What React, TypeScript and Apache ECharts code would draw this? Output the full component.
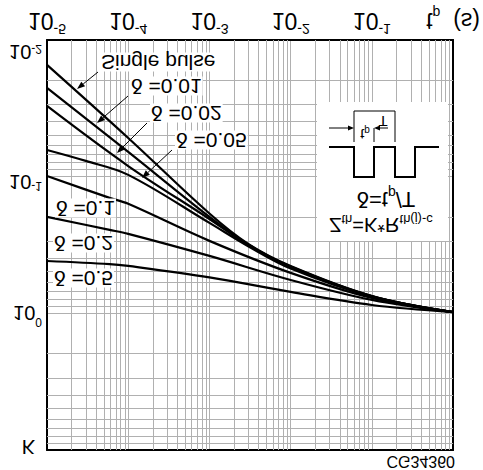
import React, { useEffect, useRef } from "react";
import * as echarts from "echarts";

const FONT = "'Liberation Sans', Arial, Helvetica, sans-serif";

// ---- axis data ----
const xDecades = [1e-5, 1e-4, 1e-3, 1e-2, 1e-1];
const yDecades = [1e-2, 1e-1, 1];
const minorSteps = [2, 3, 4, 5, 6, 7, 8, 9];

// ---- curves: [t_p (s), K] ----
const singlePulse = [[1e-5, 0.0152], [1e-4, 0.0521], [1e-3, 0.186], [3e-3, 0.31], [1e-2, 0.45], [1e-1, 0.746], [1, 0.98]];
const duty001 = [[1e-5, 0.0224], [1e-4, 0.0659], [1e-3, 0.197], [3e-3, 0.313], [1e-2, 0.455], [1e-1, 0.748], [1, 0.98]];
const duty002 = [[1e-5, 0.0304], [1e-4, 0.0836], [1e-3, 0.204], [3e-3, 0.317], [1e-2, 0.46], [1e-1, 0.75], [1, 0.98]];
const duty005 = [[1e-5, 0.0638], [3e-5, 0.0767], [1e-4, 0.097], [1e-3, 0.218], [3e-3, 0.323], [1e-2, 0.47], [1e-1, 0.755], [1, 0.98]];
const duty01 = [[1e-5, 0.0989], [5.9e-5, 0.143], [1e-4, 0.158], [1e-3, 0.295], [1e-2, 0.506], [1e-1, 0.771], [1, 0.98]];
const duty02 = [[1e-5, 0.197], [5.9e-5, 0.245], [1e-4, 0.262], [1e-3, 0.38], [1e-2, 0.57], [1e-1, 0.798], [1, 0.98]];
const duty05 = [[1e-5, 0.414], [5.9e-5, 0.436], [1e-4, 0.45], [1e-3, 0.546], [1e-2, 0.697], [1e-1, 0.869], [1, 0.98]];

const curves = [singlePulse, duty001, duty002, duty005, duty01, duty02, duty05];
const curveNames = ["Single pulse", "δ =0.01", "δ =0.02", "δ =0.05", "δ =0.1", "δ =0.2", "δ =0.5"];
const figureCode = "CG34360";

// ---- layout of annotations (pixels, chart drawn unflipped then mirrored by CSS) ----
const labelPos = [[100, 408], [130, 384], [150, 357], [175, 330], [55, 262], [53, 227], [53, 192]];
const arrowPos = [[98, 398, 77, 381], [128, 374, 97, 347], [147, 347, 117, 317], [172, 320, 142, 292]];

const GRID = "#b0b0b0";

function arrowEls(x1: number, y1: number, x2: number, y2: number, len = 8, half = 3) {
  const dx = x2 - x1, dy = y2 - y1;
  const d = Math.hypot(dx, dy);
  const ux = dx / d, uy = dy / d;
  const bx = x2 - ux * len, by = y2 - uy * len;
  return [
    { type: "line", z: 20, silent: true, shape: { x1, y1, x2: bx, y2: by }, style: { stroke: "#000", lineWidth: 1 } },
    {
      type: "polygon", z: 20, silent: true,
      shape: { points: [[x2, y2], [bx - uy * half, by + ux * half], [bx + uy * half, by - ux * half]] },
      style: { fill: "#000" },
    },
  ];
}

export default function App() {
  const ref = useRef<HTMLDivElement>(null);

  useEffect(() => {
    if (!ref.current) return;
    const chart = echarts.init(ref.current, undefined, { renderer: "svg" });

    // gridline items: [x, y, kind] kind 0 = vertical, 1 = horizontal
    const gridItems = [
      ...xDecades.flatMap((d) => minorSteps.map((m) => [m * d, 1, 0])),
      ...yDecades.flatMap((d) => minorSteps.map((m) => [1e-3, m * d, 1])),
    ];

    const xRich = {
      a: { fontSize: 23, lineHeight: 30, fontFamily: FONT, color: "#000" },
      s: { fontSize: 14, lineHeight: 12, verticalAlign: "top", fontFamily: FONT, color: "#000" },
      p: { fontSize: 14, lineHeight: 20, verticalAlign: "bottom", fontFamily: FONT, color: "#000" },
    };
    const yRich = {
      a: { fontSize: 20, lineHeight: 30, fontFamily: FONT, color: "#000" },
      s: { fontSize: 12, lineHeight: 12, verticalAlign: "top", fontFamily: FONT, color: "#000" },
      a1: { fontSize: 20, lineHeight: 30, padding: [0, 0, 10, 0], fontFamily: FONT, color: "#000" },
      a2: { fontSize: 20, lineHeight: 30, padding: [0, 0, 24, 0], fontFamily: FONT, color: "#000" },
      k: { fontSize: 20, lineHeight: 30, padding: [6, 7, 0, 0], fontFamily: FONT, color: "#000" },
    };

    const graphic: any[] = [];
    curveNames.forEach((name, i) => {
      graphic.push({
        type: "text", z: 15, silent: true,
        x: labelPos[i][0], y: labelPos[i][1],
        style: {
          text: name, font: `21px ${FONT}`, fill: "#000", lineHeight: 19,
          align: "left", verticalAlign: "middle",
          backgroundColor: "#fff", padding: [0, 1],
        },
      });
    });
    arrowPos.forEach((a) => graphic.push(...arrowEls(a[0], a[1], a[2], a[3])));

    // inset
    graphic.push({ type: "rect", z: 12, silent: true, shape: { x: 317, y: 229, width: 131, height: 139 }, style: { fill: "#fff" } });
    graphic.push({
      type: "polyline", z: 20, silent: true,
      shape: { points: [[329, 323], [354, 323], [354, 293], [374, 293], [374, 323], [395, 323], [395, 293], [415, 293], [415, 323], [439, 323]] },
      style: { stroke: "#000", lineWidth: 2, fill: null },
    });
    graphic.push({
      type: "polyline", z: 20, silent: true,
      shape: { points: [[354, 328], [354, 359], [395, 359], [395, 328]] },
      style: { stroke: "#000", lineWidth: 1, fill: null },
    });
    graphic.push({ type: "line", z: 20, silent: true, shape: { x1: 374, y1: 328, x2: 374, y2: 342 }, style: { stroke: "#000", lineWidth: 1 } });
    graphic.push(...arrowEls(329, 342, 354, 342, 6, 2.5));
    graphic.push(...arrowEls(388, 342, 374, 342, 6, 2.5));
    graphic.push({
      type: "text", z: 20, silent: true, x: 365, y: 336,
      style: {
        text: "{t|t}{p|p}", align: "center", verticalAlign: "middle",
        rich: {
          t: { fontSize: 15, lineHeight: 18, fontFamily: FONT, fill: "#000" },
          p: { fontSize: 10, lineHeight: 12, verticalAlign: "bottom", fontFamily: FONT, fill: "#000" },
        },
      },
    });
    graphic.push({
      type: "text", z: 20, silent: true, x: 383, y: 349,
      style: { text: "T", font: `15px ${FONT}`, fill: "#000", align: "center", verticalAlign: "middle" },
    });
    graphic.push({
      type: "text", z: 20, silent: true, x: 386, y: 271,
      style: {
        text: "{n|δ=t}{s|p}{n|/T}", align: "center", verticalAlign: "middle",
        rich: {
          n: { fontSize: 22, lineHeight: 26, fontFamily: FONT, fill: "#000" },
          s: { fontSize: 14, lineHeight: 14, verticalAlign: "bottom", fontFamily: FONT, fill: "#000" },
        },
      },
    });
    graphic.push({
      type: "text", z: 20, silent: true, x: 381, y: 245,
      style: {
        text: "{n|Z}{s|th}{n|=K*R}{s|th(j)-c}", align: "center", verticalAlign: "middle",
        rich: {
          n: { fontSize: 20, lineHeight: 24, fontFamily: FONT, fill: "#000" },
          s: { fontSize: 13, lineHeight: 13, verticalAlign: "bottom", fontFamily: FONT, fill: "#000" },
        },
      },
    });
    graphic.push({
      type: "text", z: 20, silent: true, x: 455, y: 9,
      style: { text: figureCode, font: `16px ${FONT}`, fill: "#000", align: "right", verticalAlign: "middle" },
    });

    const option: any = {
      animation: false,
      grid: { left: 47, right: 28, top: 20, bottom: 40 },
      xAxis: [
        {
          type: "log", logBase: 10, min: 1e-5, max: 1, splitNumber: 5,
          axisLine: { show: true, onZero: false, lineStyle: { color: "#000", width: 2 } },
          axisTick: { show: false },
          splitLine: { show: true, lineStyle: { color: GRID, width: 1 } },
          axisLabel: {
            margin: 4, showMinLabel: true, showMaxLabel: true,
            formatter: (v: number) => {
              const e = Math.round(Math.log10(v));
              if (e === 0) return "{a|t}{p|p}{a|  (s)}";
              return `{a|10}{s|${e}}`;
            },
            rich: xRich,
          },
        },
        {
          type: "log", logBase: 10, min: 1e-5, max: 1, position: "top",
          axisLine: { show: true, onZero: false, lineStyle: { color: "#000", width: 2 } },
          axisTick: { show: false }, axisLabel: { show: false }, splitLine: { show: false },
        },
      ],
      yAxis: [
        {
          type: "log", logBase: 10, min: 0.01, max: 10, splitNumber: 3,
          axisLine: { show: true, onZero: false, lineStyle: { color: "#000", width: 2 } },
          axisTick: { show: false },
          splitLine: { show: true, lineStyle: { color: GRID, width: 1 } },
          axisLabel: {
            margin: 5, showMinLabel: true, showMaxLabel: true,
            formatter: (v: number) => {
              const e = Math.round(Math.log10(v));
              if (e === 1) return "{k|K}";
              if (e === -2) return `{a2|10}{s|${e}}`;
              if (e === -1) return `{a1|10}{s|${e}}`;
              return `{a|10}{s|${e}}`;
            },
            rich: yRich,
          },
        },
        {
          type: "log", logBase: 10, min: 0.01, max: 10, position: "right",
          axisLine: { show: true, onZero: false, lineStyle: { color: "#000", width: 2 } },
          axisTick: { show: false }, axisLabel: { show: false }, splitLine: { show: false },
        },
      ],
      series: [
        {
          name: "grid", type: "custom", data: gridItems, z: 1, silent: true, clip: false,
          encode: { x: 0, y: 1 },
          renderItem: (params: any, api: any) => {
            const cs = params.coordSys;
            const p = api.coord([api.value(0), api.value(1)]);
            const vertical = api.value(2) === 0;
            return {
              type: "line",
              shape: vertical
                ? { x1: Math.round(p[0]) + 0.5, y1: cs.y, x2: Math.round(p[0]) + 0.5, y2: cs.y + cs.height }
                : { x1: cs.x, y1: Math.round(p[1]) + 0.5, x2: cs.x + cs.width, y2: Math.round(p[1]) + 0.5 },
              style: { stroke: GRID, lineWidth: 1 },
            };
          },
        },
        ...curves.map((c, i) => ({
          name: curveNames[i], type: "line", data: c, showSymbol: false, symbol: "none",
          smooth: 0.35, lineStyle: { color: "#000", width: 2.2 }, z: 3, silent: true,
        })),
      ],
      graphic,
    };

    chart.setOption(option);
    return () => chart.dispose();
  }, []);

  return (
    <div
      ref={ref}
      style={{ position: "absolute", left: 0, top: 0, width: 483, height: 470, transform: "scaleY(-1)", background: "#fff" }}
    />
  );
}
